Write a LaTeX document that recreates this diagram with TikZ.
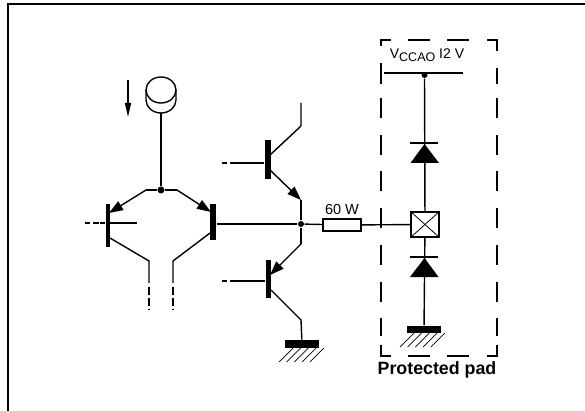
\documentclass[tikz,border=0pt]{standalone}
\usepackage{fontspec}
\setmainfont{Liberation Sans}
\usetikzlibrary{arrows.meta}
\tikzset{
	wire/.style={line width=1.4pt},
	emit/.style={-{Triangle[length=14pt,width=10pt]}},
	basebar/.style={fill=black,draw=none,minimum width=6pt,inner sep=0pt},
	dot/.style={circle,fill=black,draw=none,minimum size=7pt,inner sep=0pt},
	pinlead/.style={line width=1.3pt,dash pattern=on 5pt off 3pt on 6pt off 1pt},
	boxdash/.style={line width=1.5pt,dash pattern=on 21pt off 17pt},
	railbar/.style={fill=black,draw=none,inner sep=0pt,minimum height=7.5pt},
	padbox/.style={draw,fill=white,line width=1.4pt,inner sep=0pt},
}
\newcommand{\hatchlines}[2]{% x of first line, y of bar bottom
	\foreach \k in {0,...,4} {
		\draw[line width=0.7pt] (#1+\k*7.7,#2) -- ++(-14,14);
	}
}
\begin{document}
\begin{tikzpicture}[x=1pt,y=-1pt,wire]
	\useasboundingbox (0,0) rectangle (585,411);
	% frame
	\draw[line width=2pt] (8,411) -- (8,4) -- (585,4);

	% current source
	\node[dot] (tail) at (161,190) {};
	\coordinate (srcin) at (161,113);
	\draw (146,90) -- (146,100) arc [start angle=180,end angle=0,x radius=15,y radius=13] -- (176,90);
	\draw (161,90) circle [x radius=15,y radius=13];
	\draw (srcin) -- (tail);
	\coordinate (arrtop) at (128,80);
	\coordinate (arrbot) at (128,117);
	\draw[-{Triangle[length=14pt,width=6pt]}] (arrtop) -- (arrbot);

	% differential pair
	\node[basebar,minimum width=4.5pt,minimum height=43pt] (QL) at (108,225.5) {};
	\node[basebar,minimum height=36pt] (QR) at (213,222) {};
	\coordinate (tailL) at (146,190);
	\coordinate (tailR) at (177,190);
	\coordinate (emL) at (109,213);
	\coordinate (emR) at (211,212);
	\draw (tail) -- (tailL);
	\draw (tail) -- (tailR);
	\draw[emit] (tailL) -- (emL);
	\draw[emit] (tailR) -- (emR);
	\coordinate (colL) at (110,238);
	\coordinate (colR) at (210,233);
	\coordinate (kneeL) at (149,261);
	\coordinate (kneeR) at (173,261);
	\coordinate (downL) at (149,283);
	\coordinate (downR) at (173,283);
	\coordinate (endL) at (149,310);
	\coordinate (endR) at (173,310);
	\draw (colL) -- (kneeL) -- (downL);
	\draw (colR) -- (kneeR) -- (downR);
	\draw[dash pattern=on 8pt off 3pt] (downL) ++(0,4) -- (endL);
	\draw[dash pattern=on 8pt off 3pt] (downR) ++(0,4) -- (endR);
	\coordinate (baseL) at (85,223);
	\coordinate (baseLin) at (108,223);
	\coordinate (baseLr) at (137,223);
	\draw[pinlead] (baseL) -- (baseLin);
	\draw (baseLin) -- (baseLr);

	% output stage
	\node[dot,minimum size=6pt] (mid) at (301,224) {};
	\draw (QR.east |- mid) -- (mid);
	\node[basebar,minimum height=39pt] (QT) at (268,159.5) {};
	\node[basebar,minimum width=5pt,minimum height=38pt] (QB) at (268,278.5) {};
	\coordinate (baseT) at (222,163);
	\coordinate (baseTs) at (236,163);
	\coordinate (baseB) at (222,281);
	\coordinate (baseBs) at (236,281);
	\draw[pinlead] (baseT) -- (baseTs);
	\draw[pinlead] (baseB) -- (baseBs);
	\draw (baseTs) -- (baseT -| QT.west);
	\draw (baseBs) -- (baseB -| QB.west);
	\coordinate (colTop) at (301,103);
	\coordinate (colKnee) at (301,126);
	\coordinate (colT) at (270,155);
	\draw (colTop) -- (colKnee) -- (colT);
	\coordinate (emT) at (270,170);
	\coordinate (emTk) at (301,200);
	\draw[emit] (emT) -- (emTk);
	\draw (emTk) -- (mid);
	\coordinate (emBk) at (301,244);
	\coordinate (emB) at (270,275);
	\draw (mid) -- (emBk);
	\draw[emit] (emBk) -- (emB);
	\coordinate (colB) at (271,290);
	\coordinate (colBk) at (301,320);
	\node[railbar,minimum width=34pt] (gndA) at (302,344) {};
	\draw (colB) -- (colBk) -- (gndA);
	\hatchlines{293}{348}

	% series resistor
	\node[padbox,minimum width=38pt,minimum height=12pt,label={[font=\fontsize{14.5}{15}\selectfont,yshift=-0.5pt]above:60 W}] (res) at (342,225) {};
	\draw (mid) -- (res);

	% protected pad
	\node[padbox,minimum width=28pt,minimum height=25pt] (pad) at (425,224.5) {};
	\draw[line width=0.8pt] (pad.north west) -- (pad.south east);
	\draw[line width=0.8pt] (pad.north east) -- (pad.south west);
	\draw (res) -- (pad);
	\coordinate (railL) at (384,73);
	\coordinate (railR) at (463,73);
	\draw (railL) -- (railR);
	\node[dot,minimum size=6pt] (vcc) at (424.5,75) {};
	\node[font=\fontsize{14}{15}\selectfont,inner sep=0pt] (vlab) at (427,55) {V\raisebox{-3pt}{\fontsize{12.5}{13}\selectfont CCAO} I2 V};
	\draw (vcc) -- (pad);
	\draw (410,143) -- (438,143);
	\fill (424.5,144) -- (439,163) -- (410.5,163) -- cycle;
	\draw[line width=2pt] (410,257) -- (438,257);
	\fill (424.5,258) -- (438.5,277) -- (410,277) -- cycle;
	\node[railbar,minimum width=34pt] (gndB) at (424,329.5) {};
	\draw (pad) -- (gndB);
	\hatchlines{414}{333}

	% dashed enclosure
	\draw[boxdash] (381,84) -- (381,40) -- (391,40);
	\draw[boxdash,dash pattern=on 22pt off 17pt] (408,40) -- (470,40);
	\draw[boxdash] (487,40) -- (497,40) -- (497,84);
	\draw[boxdash,dash pattern=on 20pt off 16.7pt] (381,98) -- (381,336);
	\draw[boxdash,dash pattern=on 20pt off 16.7pt] (497,98) -- (497,336);
	\draw[boxdash] (381,345) -- (381,356) -- (391,356);
	\draw[boxdash,dash pattern=on 22pt off 17pt] (408,356) -- (470,356);
	\draw[boxdash] (487,356) -- (497,356) -- (497,345);
	\node[font=\bfseries\fontsize{17.8}{19}\selectfont,inner sep=0pt] (protlab) at (437,370) {Protected pad};
\end{tikzpicture}
\end{document}
